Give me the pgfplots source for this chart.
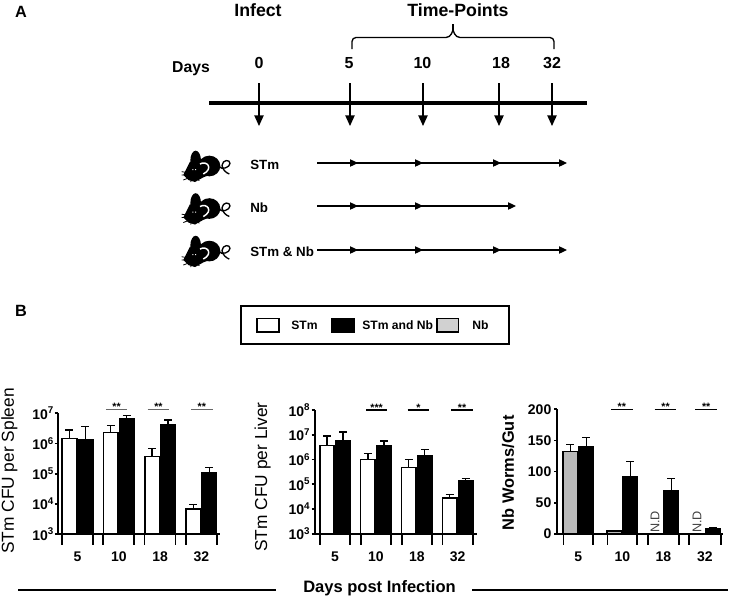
\documentclass[border=0pt]{standalone}
\usepackage{fontspec}
\setmainfont{Liberation Sans}
\usepackage{pgfplots}
\usepackage{pgfplotstable}
\pgfplotsset{compat=1.18}
\usetikzlibrary{arrows.meta}

% spleen
\pgfplotstableread{
x y ep
0 1.48e6 1.32e6
1 2.29e6 1.71e6
2 3.76e5 3.14e5
3 6.7e3 2.9e3
}\spleenS
\pgfplotstableread{
x y ep
0 1.34e6 2.26e6
1 6.66e6 1.94e6
2 4.3e6 1.7e6
3 1.03e5 0.59e5
}\spleenSN
% liver
\pgfplotstableread{
x y ep
0 3.7e6 5.2e6
1 1.01e6 0.76e6
2 4.8e5 5.0e5
3 2.77e4 1.03e4
}\liverS
\pgfplotstableread{
x y ep
0 5.75e6 7.15e6
1 3.6e6 2.0e6
2 1.38e6 1.12e6
3 1.39e5 0.28e5
}\liverSN
% worms, N.D at 18 and 32
\pgfplotstableread{
x y ep
0 132 11
1.06 4 1.4
}\gutN
\pgfplotstableread{
x y ep
0 140.5 14.5
1.06 91 25
2.05 68.6 20.4
3.05 7.5 1.5
}\gutSN

\pgfplotsset{
  panel/.style={
    scale only axis,
    anchor=south west,
    axis lines*=left,
    axis line style={-, line width=1.3pt},
    tick align=outside,
    tick style={black, line width=1.3pt},
    major tick length=2.5pt,
    minor tick length=8.2pt,
    x tick style={draw=none},
    minor x tick style={draw=black, line width=1.3pt},
    yminorticks=false,
    log origin=infty,
    clip=false,
    /pgf/number format/assume math mode=true,
    tick label style={font=\bfseries\fontsize{10.5}{12}\selectfont},
    xticklabel style={yshift=-7.5pt},
    yticklabel style={xshift=1.5pt},
    xticklabels={5,10,18,32},
    every axis y label/.style={rotate=90, anchor=center},
  },
  % bars with a shift in pt; the error bar needs the same shift
  bars/.style={
    ybar, bar width=10.9pt, bar shift=#1, draw=black, line width=1.2pt,
    error bars/y dir=plus, error bars/y explicit,
    error bars/error bar style={line width=1pt, xshift=#1},
    error bars/error mark options={rotate=90, mark size=3pt, line width=1pt, black},
  },
}
\tikzset{
  stars/.style={font=\fontsize{8}{8}\selectfont\bfseries, inner sep=0pt, anchor=south, yshift=-1.5pt},
}
% significance bar: x from, x to, y, colour, stars
\newcommand\sigbar[5]{%
  \draw[line width=.9pt, draw=#4] (axis cs:#1,#3) -- (axis cs:#2,#3) node[midway, stars, text=black] {#5};}

\newcommand\mouse[1]{%
  \begin{scope}[shift={(112.5pt,#1)}, x=.25pt, y=-.25pt]
    \fill (137,92) ellipse [x radius=16, y radius=30];
    \fill (178,108) ellipse [x radius=33, y radius=31];
    \fill (120,95) -- (178,135) -- (160,142) -- (135,156) -- (115,150) -- (100,135) -- cycle;
    \draw[line width=.6pt] (95,125)--(125,130) (95,135)--(125,135) (100,150)--(125,140) (122,156)--(128,140) (148,152)--(132,140);
    \draw[white, line width=1.1pt] (150,102) .. controls (170,90) and (192,115) .. (160,132);
    \fill[white] (127,117) rectangle (130,120) (135,117) rectangle (138,120);
    \draw[line width=1pt] (205,108) .. controls (215,122) and (240,112) .. (240,100) .. controls (240,88) and (218,88) .. (216,106) .. controls (218,120) and (228,128) .. (238,132);
  \end{scope}}

\begin{document}
\begin{tikzpicture}
\path[use as bounding box] (0,0) rectangle (549.75pt,-450pt);

% panel A, pixel coordinates from the top left corner
\begin{scope}[x=.75pt, y=-.75pt]
  \node[font=\bfseries\fontsize{12.2}{14}\selectfont] at (21,12) {A};
  \node[font=\bfseries\fontsize{12.2}{14}\selectfont] at (21,311) {B};
  \node[font=\bfseries\fontsize{13.3}{15}\selectfont] at (258,10) {Infect};
  \node[font=\bfseries\fontsize{13.3}{15}\selectfont] at (458,10) {Time-Points};
  \node[font=\bfseries\fontsize{11.8}{14}\selectfont] at (191,69) {Days};
  \foreach \x/\t in {259/0,349/5,422.5/10,501/18,552/32}
    \node[font=\bfseries\fontsize{12}{14}\selectfont] at (\x,63) {\t};
  \draw[line width=1pt, rounded corners=3pt] (352,49) -- (352,37.5) -- (450,37.5) -- (453,30);
  \draw[line width=1pt, rounded corners=3pt] (554,49) -- (554,37.5) -- (456,37.5) -- (453,30);
  \draw[line width=1pt] (453,32) -- (453,24);
  \draw[line width=2.6pt] (209,103) -- (587,103);
  \foreach \x in {259,350,423,499,552}
    \draw[line width=1pt, -{Triangle[length=8pt,width=7pt]}] (\x,83) -- (\x,126);
  \foreach \y/\t in {165/STm,208/Nb,252/{STm \& Nb}}
    \node[anchor=west, inner sep=0pt, font=\bfseries\fontsize{10}{12}\selectfont] at (250,\y) {\t};
  \foreach \y/\xs in {163/{317/358,355/423,420/501,498/567},206/{317/358,355/423,420/516},250/{317/358,355/423,420/501,498/567}}
    \foreach \a/\b in \xs
      \draw[line width=.9pt, -{Triangle[length=6pt,width=5.5pt]}] (\a,\y) -- (\b,\y);
  % legend
  \draw[line width=2pt] (241,306) rectangle (509,344);
  \draw[line width=1.3pt, fill=white] (257,318.5) rectangle (279,332);
  \draw[line width=1.3pt, fill=black] (331.5,318.5) rectangle (354,332);
  \draw[line width=1.3pt, fill=black!18] (437,318.5) rectangle (458.5,332);
  \foreach \x/\t in {291/STm,362/{STm and Nb},472/Nb}
    \node[anchor=west, inner sep=0pt, font=\bfseries\fontsize{9.1}{11}\selectfont] at (\x,325) {\t};
  % bottom label
  \node[font=\bfseries\fontsize{12.4}{14}\selectfont] at (379.5,588) {Days post Infection};
  \draw[line width=1.9pt] (18,590) -- (276,590);
  \draw[line width=1.9pt] (472,590) -- (728,590);
\end{scope}
\mouse{-97.5pt}
\mouse{-129.4pt}
\mouse{-161.3pt}

% spleen
\begin{axis}[panel, at={(43.5pt,-400.5pt)}, width=121.5pt, height=90.5pt,
  ymode=log, ymin=1e3, ymax=1e7,
  xmin=-.472, xmax=3.45,
  xtick={0,1,2,3},
  minor xtick={-.375,.375,.625,1.375,1.625,2.375,2.625,3.375},
  ytick={1e3,1e4,1e5,1e6,1e7},
  yticklabels={10\textsuperscript{3},10\textsuperscript{4},10\textsuperscript{5},10\textsuperscript{6},10\textsuperscript{7}},
  yticklabel style={xshift=1.5pt},
  ylabel={\fontsize{13}{15}\selectfont STm CFU per Spleen},
  ylabel style={at={(rel axis cs:-.30,.522)}},
]
\addplot[bars=-6pt, fill=white] table[x=x, y=y, y error plus=ep] {\spleenS};
\addplot[bars=6pt, fill=black] table[x=x, y=y, y error plus=ep] {\spleenSN};
\sigbar{.69}{1.2}{1.36e7}{black!60}{**}
\sigbar{1.7}{2.22}{1.36e7}{black!60}{**}
\sigbar{2.75}{3.27}{1.36e7}{black!60}{**}
\end{axis}

% liver
\begin{axis}[panel, at={(236.25pt,-400.3pt)}, width=121.3pt, height=92.8pt,
  ymode=log, ymin=1e3, ymax=1e8,
  xmin=-.489, xmax=3.465,
  xtick={0,1,2,3},
  minor xtick={-.37,.37,.63,1.37,1.63,2.37,2.63,3.37},
  ytick={1e3,1e4,1e5,1e6,1e7,1e8},
  yticklabels={10\textsuperscript{3},10\textsuperscript{4},10\textsuperscript{5},10\textsuperscript{6},10\textsuperscript{7},10\textsuperscript{8}},
  yticklabel style={xshift=1pt},
  ylabel={\fontsize{13}{15}\selectfont STm CFU per Liver},
  ylabel style={at={(rel axis cs:-.324,.459)}},
]
\addplot[bars=-6pt, fill=white] table[x=x, y=y, y error plus=ep] {\liverS};
\addplot[bars=6pt, fill=black] table[x=x, y=y, y error plus=ep] {\liverSN};
\sigbar{.758}{1.279}{1e8}{black}{***}
\sigbar{1.778}{2.306}{1e8}{black}{*}
\sigbar{2.844}{3.367}{1e8}{black}{**}
\end{axis}

% worms
\begin{axis}[panel, at={(418pt,-400.3pt)}, width=124.5pt, height=93.3pt,
  ymin=0, ymax=200,
  xmin=-.506, xmax=3.494,
  xtick={0,1.06,2.05,3.05},
  minor xtick={-.36,.36,.7,1.42,1.67,2.43,2.66,3.44},
  ytick={0,50,100,150,200},
  ylabel={\bfseries\fontsize{12.3}{14}\selectfont Nb Worms/Gut},
  ylabel style={at={(rel axis cs:-.297,.49)}},
]
\addplot[bars=-6pt, fill=black!27] table[x=x, y=y, y error plus=ep] {\gutN};
\addplot[bars=6pt, fill=black] table[x=x, y=y, y error plus=ep] {\gutSN};
\sigbar{.788}{1.311}{200}{black}{**}
\sigbar{1.841}{2.361}{200}{black}{**}
\sigbar{2.819}{3.342}{200}{black}{**}
\node[rotate=90, anchor=west, inner sep=0pt, font=\fontsize{9.5}{11}\selectfont, text=black!75] at (axis cs:1.85,1) {N.D};
\node[rotate=90, anchor=west, inner sep=0pt, font=\fontsize{9.5}{11}\selectfont, text=black!75] at (axis cs:2.86,1) {N.D};
\end{axis}
\end{tikzpicture}
\end{document}
